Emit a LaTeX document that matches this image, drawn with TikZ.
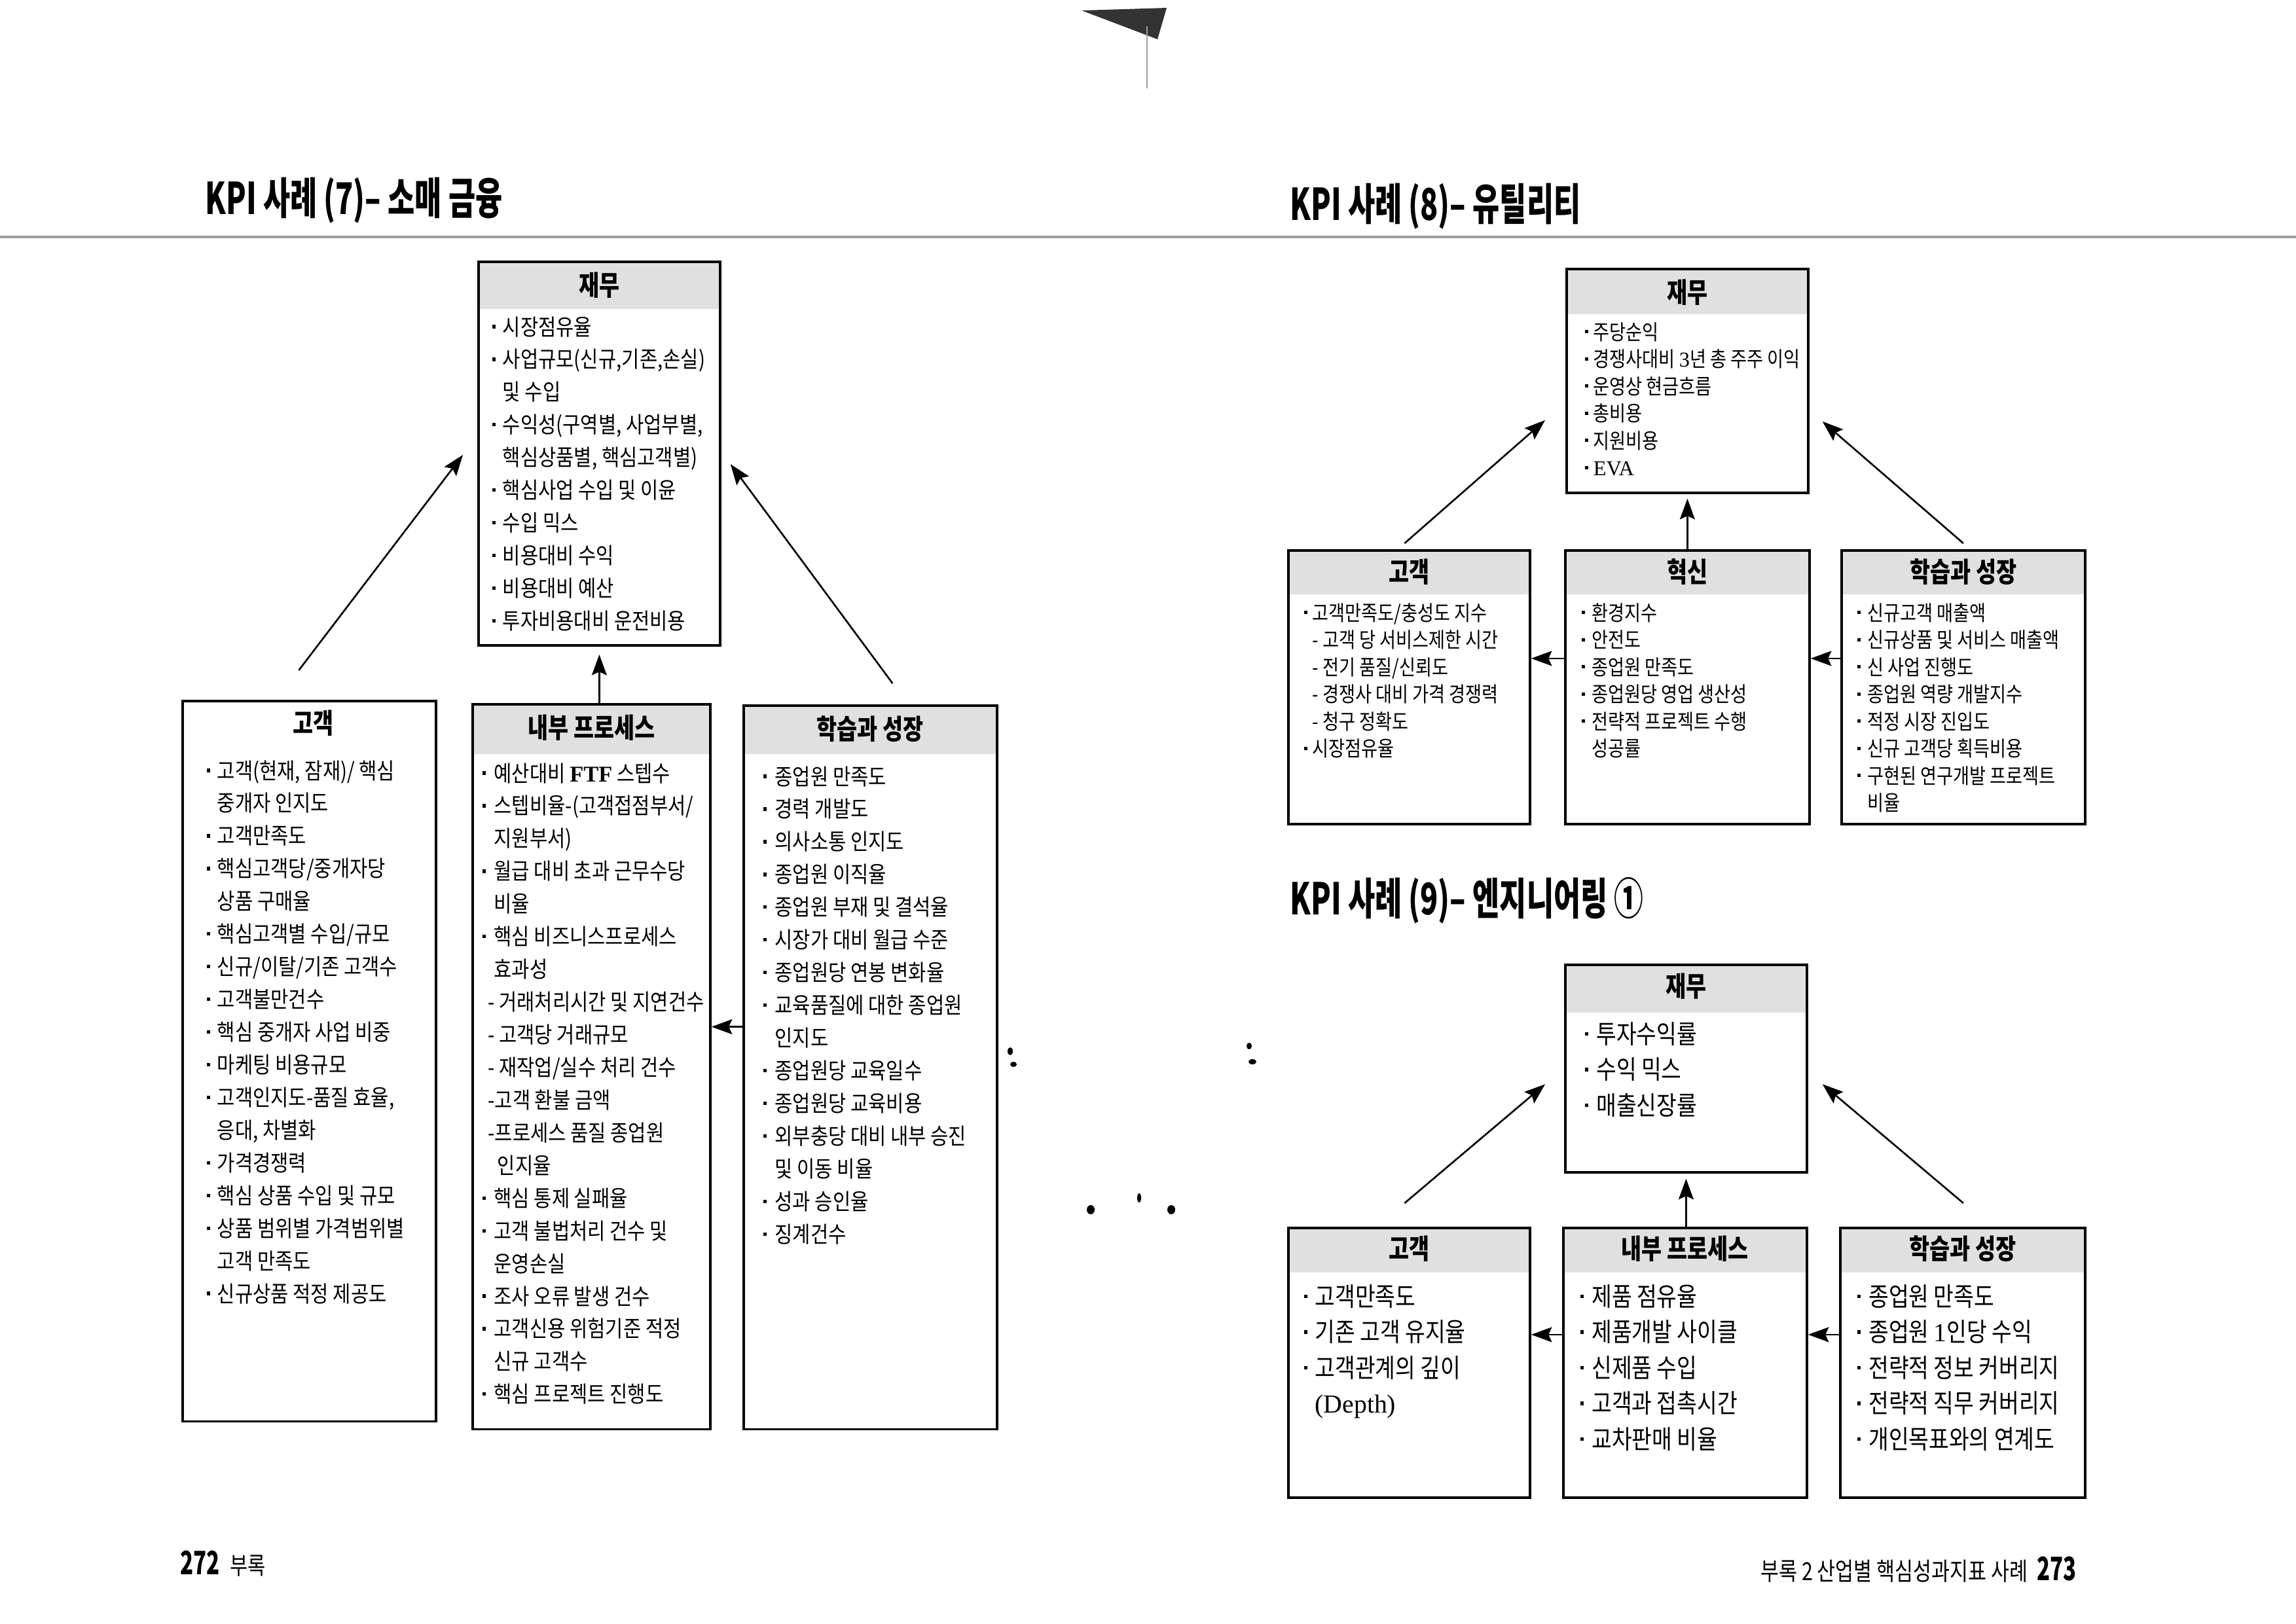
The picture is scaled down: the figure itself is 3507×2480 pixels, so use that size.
\documentclass[tikz,border=0pt]{standalone}
\usepackage{fontspec}
\setmainfont{Noto Sans CJK KR}
\newfontfamily\kbody[FakeStretch=0.86]{Noto Sans CJK KR}
\newfontfamily\kfoot[FakeStretch=0.8]{Noto Sans CJK KR}
\newfontfamily\krbody[FakeStretch=0.84]{Noto Sans CJK KR}
\newfontfamily\khead[FakeStretch=0.8]{Noto Sans CJK KR}
\newfontfamily\ktitle[FakeStretch=0.67]{Noto Sans CJK KR}
\newfontfamily\lser{Liberation Serif}
\usetikzlibrary{arrows.meta,calc}
\definecolor{hdrfill}{gray}{0.88}
\definecolor{rulegray}{gray}{0.62}
\newlength\bw
\newcommand\kbul{\makebox[\bw][l]{\raisebox{0.3em}{\rule{1.5pt}{1.5pt}}}}
\newcommand\kind{\hspace*{\bw}}
\begin{document}
\begin{tikzpicture}[x=0.01cm,y=-0.01cm,
  box/.style={draw, line width=1pt, anchor=north west, inner sep=0pt},
  hdr/.style={path picture={\fill[hdrfill] (path picture bounding box.north west) rectangle ([yshift=-#1]path picture bounding box.north east);}},
  arr/.style={line width=0.75pt, -{Stealth[length=9pt,width=6.5pt,inset=1.5pt]}},
  head/.style={font=\khead\bfseries\fontsize{12pt}{14pt}\selectfont, inner sep=0pt, anchor=center},
  title/.style={font=\ktitle\bfseries\fontsize{19pt}{22pt}\selectfont, inner sep=0pt, anchor=west},
  lbody/.style={font=\kbody\fontsize{9.8pt}{14.2pt}\selectfont, inner sep=0pt, anchor=base west},
  rbodys/.style={font=\krbody\fontsize{9.2pt}{11.8pt}\selectfont, inner sep=0pt, anchor=base west},
  rbodyl/.style={font=\krbody\fontsize{11.3pt}{15.5pt}\selectfont, inner sep=0pt, anchor=base west}
]
\useasboundingbox (0,0) rectangle (3507,2480);
\fill[white] (0,0) rectangle (3507,2480);

% page rule and scan marks
\draw[rulegray, line width=1pt] (0,362) -- (3507,362);
\fill[black!80] (1652,16) -- (1782,12) -- (1768,60) -- cycle;
\draw[rulegray, line width=0.6pt] (1752,40) -- (1752,135);
\fill (1543,1606) ellipse (4 and 6);
\fill (1548,1626) ellipse (5 and 4);
\fill (1908,1598) ellipse (4 and 5);
\fill (1913,1622) ellipse (6 and 4);
\fill (1666,1848) ellipse (6 and 7);
\fill (1740,1830) ellipse (3 and 7);
\fill (1789,1848) ellipse (6 and 7);

% titles
\node[title] (t7) at (313,306) {KPI 사례 (7)– 소매 금융};
\node[title] (t8) at (1970,315) {KPI 사례 (8)– 유틸리티};
\node[title] (t9) at (1970,1376) {KPI 사례 (9)– 엔지니어링 ①};

% ---------------- left page ----------------
\node[box, hdr=0.72cm, minimum width=3.69cm, minimum height=5.86cm] (lfin) at (729,398) {};
\node[box, minimum width=3.87cm, minimum height=11.0cm] (lcust) at (277,1069) {};
\node[box, hdr=0.76cm, minimum width=3.63cm, minimum height=11.07cm] (lint) at (720,1074) {};
\node[box, hdr=0.74cm, minimum width=3.87cm, minimum height=11.05cm] (llearn) at (1134,1076) {};

\node[head] (lfinH) at ([shift={(0,38)}]lfin.north) {재무};
\node[head] (lcustH) at ([shift={(6,36)}]lcust.north) {고객};
\node[head] (lintH) at ([shift={(0,38)}]lint.north) {내부 프로세스};
\node[head] (llearnH) at ([shift={(0,38)}]llearn.north) {학습과 성장};

\node[lbody] (lfinT) at (751,512) {\setlength\bw{4.6pt}\begin{tabular}[t]{@{}l@{}}
\kbul 시장점유율\\
\kbul 사업규모(신규,기존,손실)\\
\kind 및 수입\\
\kbul 수익성(구역별, 사업부별,\\
\kind 핵심상품별, 핵심고객별)\\
\kbul 핵심사업 수입 및 이윤\\
\kbul 수입 믹스\\
\kbul 비용대비 수익\\
\kbul 비용대비 예산\\
\kbul 투자비용대비 운전비용
\end{tabular}};

\node[lbody] (lcustT) at (315,1190) {\setlength\bw{4.6pt}\begin{tabular}[t]{@{}l@{}}
\kbul 고객(현재, 잠재)/ 핵심\\
\kind 중개자 인지도\\
\kbul 고객만족도\\
\kbul 핵심고객당/중개자당\\
\kind 상품 구매율\\
\kbul 핵심고객별 수입/규모\\
\kbul 신규/이탈/기존 고객수\\
\kbul 고객불만건수\\
\kbul 핵심 중개자 사업 비중\\
\kbul 마케팅 비용규모\\
\kbul 고객인지도-품질 효율,\\
\kind 응대, 차별화\\
\kbul 가격경쟁력\\
\kbul 핵심 상품 수입 및 규모\\
\kbul 상품 범위별 가격범위별\\
\kind 고객 만족도\\
\kbul 신규상품 적정 제공도
\end{tabular}};

\node[lbody] (lintT) at (736,1194) {\setlength\bw{5.1pt}\begin{tabular}[t]{@{}l@{}}
\kbul 예산대비 {\lser\bfseries FTF} 스텝수\\
\kbul 스텝비율-(고객접점부서/\\
\kind 지원부서)\\
\kbul 월급 대비 초과 근무수당\\
\kind 비율\\
\kbul 핵심 비즈니스프로세스\\
\kind 효과성\\
\hspace*{2.5pt}- 거래처리시간 및 지연건수\\
\hspace*{2.5pt}- 고객당 거래규모\\
\hspace*{2.5pt}- 재작업/실수 처리 건수\\
\hspace*{2.5pt}-고객 환불 금액\\
\hspace*{2.5pt}-프로세스 품질 종업원\\
\kind\hspace*{1.5pt}인지율\\
\kbul 핵심 통제 실패율\\
\kbul 고객 불법처리 건수 및\\
\kind 운영손실\\
\kbul 조사 오류 발생 건수\\
\kbul 고객신용 위험기준 적정\\
\kind 신규 고객수\\
\kbul 핵심 프로젝트 진행도
\end{tabular}};

\node[lbody] (llearnT) at (1165,1199) {\setlength\bw{5.1pt}\begin{tabular}[t]{@{}l@{}}
\kbul 종업원 만족도\\
\kbul 경력 개발도\\
\kbul 의사소통 인지도\\
\kbul 종업원 이직율\\
\kbul 종업원 부재 및 결석율\\
\kbul 시장가 대비 월급 수준\\
\kbul 종업원당 연봉 변화율\\
\kbul 교육품질에 대한 종업원\\
\kind 인지도\\
\kbul 종업원당 교육일수\\
\kbul 종업원당 교육비용\\
\kbul 외부충당 대비 내부 승진\\
\kind 및 이동 비율\\
\kbul 성과 승인율\\
\kbul 징계건수
\end{tabular}};

\draw[arr] ([shift={(-16,-45)}]lcust.north) -- ([shift={(-22,2)}]lfin.west);
\draw[arr] ([shift={(34,-32)}]llearn.north) -- ([shift={(14,16)}]lfin.east);
\draw[arr] (lfin.south |- lint.north) -- ([shift={(0,12)}]lfin.south);
\path ([shift={(0,-62)}]llearn.west) coordinate (a4);
\draw[arr] (a4) -- (lint.east |- a4);

% ---------------- right page: case 8 ----------------
\node[box, hdr=0.69cm, minimum width=3.69cm, minimum height=3.42cm] (rfin8) at (2391,409) {};
\node[box, hdr=0.67cm, minimum width=3.69cm, minimum height=4.18cm] (rcust8) at (1966,839) {};
\node[box, hdr=0.67cm, minimum width=3.73cm, minimum height=4.18cm] (rinno) at (2389,839) {};
\node[box, hdr=0.67cm, minimum width=3.72cm, minimum height=4.18cm] (rlearn8) at (2811,839) {};

\node[head] (rfin8H) at ([shift={(0,38)}]rfin8.north) {재무};
\node[head] (rcust8H) at ([shift={(0,35)}]rcust8.north) {고객};
\node[head] (rinnoH) at ([shift={(0,35)}]rinno.north) {혁신};
\node[head] (rlearn8H) at ([shift={(0,35)}]rlearn8.north) {학습과 성장};

\node[rbodys] (rfin8T) at (2420,519) {\setlength\bw{3.7pt}\begin{tabular}[t]{@{}l@{}}
\kbul 주당순익\\
\kbul 경쟁사대비 {\lser 3}년 총 주주 이익\\
\kbul 운영상 현금흐름\\
\kbul 총비용\\
\kbul 지원비용\\
\kbul {\lser EVA}
\end{tabular}};

\node[rbodys] (rcust8T) at (1991,948) {\setlength\bw{3.7pt}\begin{tabular}[t]{@{}l@{}}
\kbul 고객만족도/충성도 지수\\
\kind - 고객 당 서비스제한 시간\\
\kind - 전기 품질/신뢰도\\
\kind - 경쟁사 대비 가격 경쟁력\\
\kind - 청구 정확도\\
\kbul 시장점유율
\end{tabular}};

\node[rbodys] (rinnoT) at (2415,948) {\setlength\bw{4.5pt}\begin{tabular}[t]{@{}l@{}}
\kbul 환경지수\\
\kbul 안전도\\
\kbul 종업원 만족도\\
\kbul 종업원당 영업 생산성\\
\kbul 전략적 프로젝트 수행\\
\kind 성공률
\end{tabular}};

\node[rbodys] (rlearn8T) at (2836,948) {\setlength\bw{4.5pt}\begin{tabular}[t]{@{}l@{}}
\kbul 신규고객 매출액\\
\kbul 신규상품 및 서비스 매출액\\
\kbul 신 사업 진행도\\
\kbul 종업원 역량 개발지수\\
\kbul 적정 시장 진입도\\
\kbul 신규 고객당 획득비용\\
\kbul 구현된 연구개발 프로젝트\\
\kind 비율
\end{tabular}};

\draw[arr] ([shift={(-7,-9)}]rcust8.north) -- ([shift={(-31,60)}]rfin8.west);
\draw[arr] ([shift={(0,-9)}]rlearn8.north) -- ([shift={(20,62)}]rfin8.east);
\draw[arr] (rfin8.south |- rinno.north) -- ([shift={(0,7)}]rfin8.south);
\path ([shift={(0,-44)}]rinno.west) coordinate (b4);
\draw[arr] (b4) -- (rcust8.east |- b4);
\path ([shift={(0,-44)}]rlearn8.west) coordinate (b5);
\draw[arr] (b5) -- (rinno.east |- b5);

% ---------------- right page: case 9 ----------------
\node[box, hdr=0.73cm, minimum width=3.69cm, minimum height=3.17cm] (rfin9) at (2389,1472) {};
\node[box, hdr=0.68cm, minimum width=3.69cm, minimum height=4.12cm] (rcust9) at (1966,1874) {};
\node[box, hdr=0.68cm, minimum width=3.72cm, minimum height=4.12cm] (rint9) at (2386,1874) {};
\node[box, hdr=0.68cm, minimum width=3.74cm, minimum height=4.12cm] (rlearn9) at (2809,1874) {};

\node[head] (rfin9H) at ([shift={(0,35)}]rfin9.north) {재무};
\node[head] (rcust9H) at ([shift={(0,34)}]rcust9.north) {고객};
\node[head] (rint9H) at ([shift={(0,34)}]rint9.north) {내부 프로세스};
\node[head] (rlearn9H) at ([shift={(0,34)}]rlearn9.north) {학습과 성장};

\node[rbodyl] (rfin9T) at (2420,1594) {\setlength\bw{5pt}\begin{tabular}[t]{@{}l@{}}
\kbul 투자수익률\\
\kbul 수익 믹스\\
\kbul 매출신장률
\end{tabular}};

\node[rbodyl] (rcust9T) at (1991,1995) {\setlength\bw{4.8pt}\begin{tabular}[t]{@{}l@{}}
\kbul 고객만족도\\
\kbul 기존 고객 유지율\\
\kbul 고객관계의 깊이\\
\kind {\lser (Depth)}
\end{tabular}};

\node[rbodyl] (rint9T) at (2413,1995) {\setlength\bw{5pt}\begin{tabular}[t]{@{}l@{}}
\kbul 제품 점유율\\
\kbul 제품개발 사이클\\
\kbul 신제품 수입\\
\kbul 고객과 접촉시간\\
\kbul 교차판매 비율
\end{tabular}};

\node[rbodyl] (rlearn9T) at (2836,1995) {\setlength\bw{5pt}\begin{tabular}[t]{@{}l@{}}
\kbul 종업원 만족도\\
\kbul 종업원 {\lser 1}인당 수익\\
\kbul 전략적 정보 커버리지\\
\kbul 전략적 직무 커버리지\\
\kbul 개인목표와의 연계도
\end{tabular}};

\draw[arr] ([shift={(-7,-36)}]rcust9.north) -- ([shift={(-29,24)}]rfin9.west);
\draw[arr] ([shift={(1,-36)}]rlearn9.north) -- ([shift={(22,24)}]rfin9.east);
\draw[arr] (rfin9.south |- rint9.north) -- ([shift={(0,8)}]rfin9.south);
\path ([shift={(0,-43)}]rint9.west) coordinate (c4);
\draw[arr] (c4) -- (rcust9.east |- c4);
\path ([shift={(0,-43)}]rlearn9.west) coordinate (c5);
\draw[arr] (c5) -- (rint9.east |- c5);

% footers
\node[inner sep=0pt, anchor=west] (pgL) at (275,2389) {{\ktitle\bfseries\fontsize{14pt}{16pt}\selectfont 272}\hspace{4.5pt}{\kfoot\fontsize{10.5pt}{12pt}\selectfont 부록}};
\node[inner sep=0pt, anchor=east] (pgR) at (3172,2398) {{\kfoot\fontsize{10.8pt}{12pt}\selectfont 부록 2 산업별 핵심성과지표 사례}\hspace{4pt}{\ktitle\bfseries\fontsize{14pt}{16pt}\selectfont 273}};
\end{tikzpicture}
\end{document}
